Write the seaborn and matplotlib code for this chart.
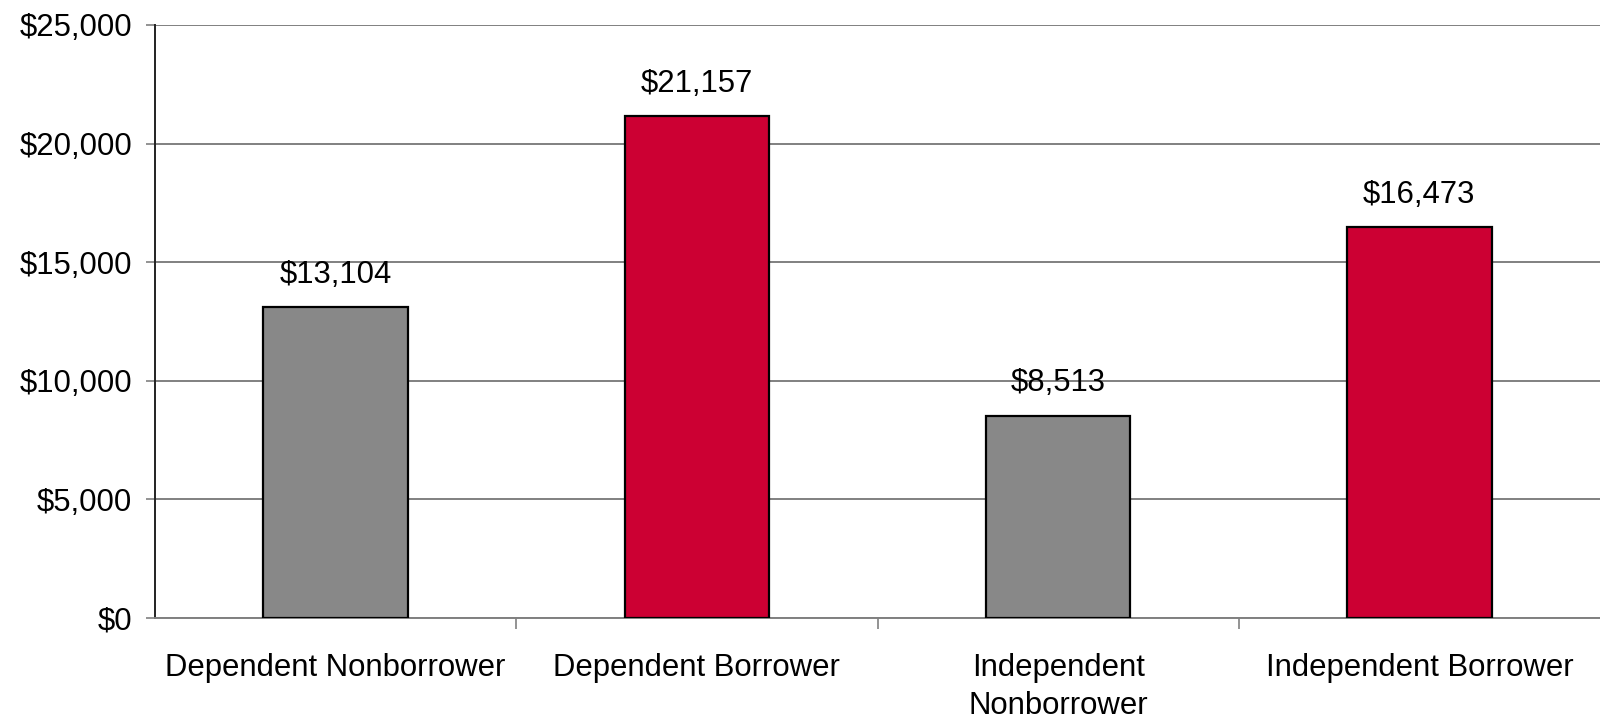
import matplotlib
matplotlib.use("Agg")
import matplotlib.pyplot as plt
from matplotlib.ticker import FuncFormatter, FixedLocator
import seaborn as sns
import pandas as pd

categories = ["Dependent Nonborrower", "Dependent Borrower",
              "Independent\nNonborrower", "Independent Borrower"]
values = [13104, 21157, 8513, 16473]
bar_colors = ["#888888", "#CC0033", "#888888", "#CC0033"]
y_ticks = [0, 5000, 10000, 15000, 20000, 25000]

sns.set_theme(style="white")
plt.rcParams["font.family"] = ["Liberation Sans", "DejaVu Sans"]

df = pd.DataFrame({"group": categories, "amount": values})

fig = plt.figure(figsize=(16, 7.2), dpi=100)
ax = fig.add_axes([155 / 1600, (720 - 618) / 720, 1445 / 1600, 593 / 720])

sns.barplot(data=df, x="group", y="amount", hue="group", palette=bar_colors,
            width=0.4, edgecolor="black", linewidth=1.6, legend=False,
            saturation=1, ax=ax, zorder=3)

ax.set_xlim(-0.5, len(categories) - 0.5)
ax.set_ylim(0, 25000)
ax.set_yticks(y_ticks)
ax.yaxis.set_major_formatter(FuncFormatter(lambda v, p: f"${v:,.0f}"))
ax.grid(axis="y", color="#808080", linewidth=1.4, zorder=0)
ax.set_axisbelow(True)

# category labels at bar centres, tick marks on the boundaries between them
ax.set_xticks(range(len(categories)))
ax.set_xticklabels(categories, fontsize=22.4, linespacing=1.35, color="black")
ax.tick_params(axis="x", which="major", length=0, pad=25, labelcolor="black")
ax.xaxis.set_minor_locator(FixedLocator([i + 0.5 for i in range(len(categories) - 1)]))
ax.tick_params(axis="x", which="minor", length=8, width=1.2, color="#808080",
               direction="out", bottom=True)
ax.tick_params(axis="y", length=6.5, width=1.2, color="#808080", direction="out",
               left=True, labelsize=22.4, labelcolor="black", pad=10)

ax.set_xlabel("")
ax.set_ylabel("")
for side in ["top", "right"]:
    ax.spines[side].set_visible(False)
ax.spines["left"].set_color("#222222")
ax.spines["left"].set_linewidth(1.4)
ax.spines["bottom"].set_color("#808080")
ax.spines["bottom"].set_linewidth(1.4)

for i, v in enumerate(values):
    ax.annotate(f"${v:,}", xy=(i, v), xytext=(0, 23.5), textcoords="offset points",
                ha="center", va="center", fontsize=22.4, color="black")

fig.savefig("out.png", dpi=100)
